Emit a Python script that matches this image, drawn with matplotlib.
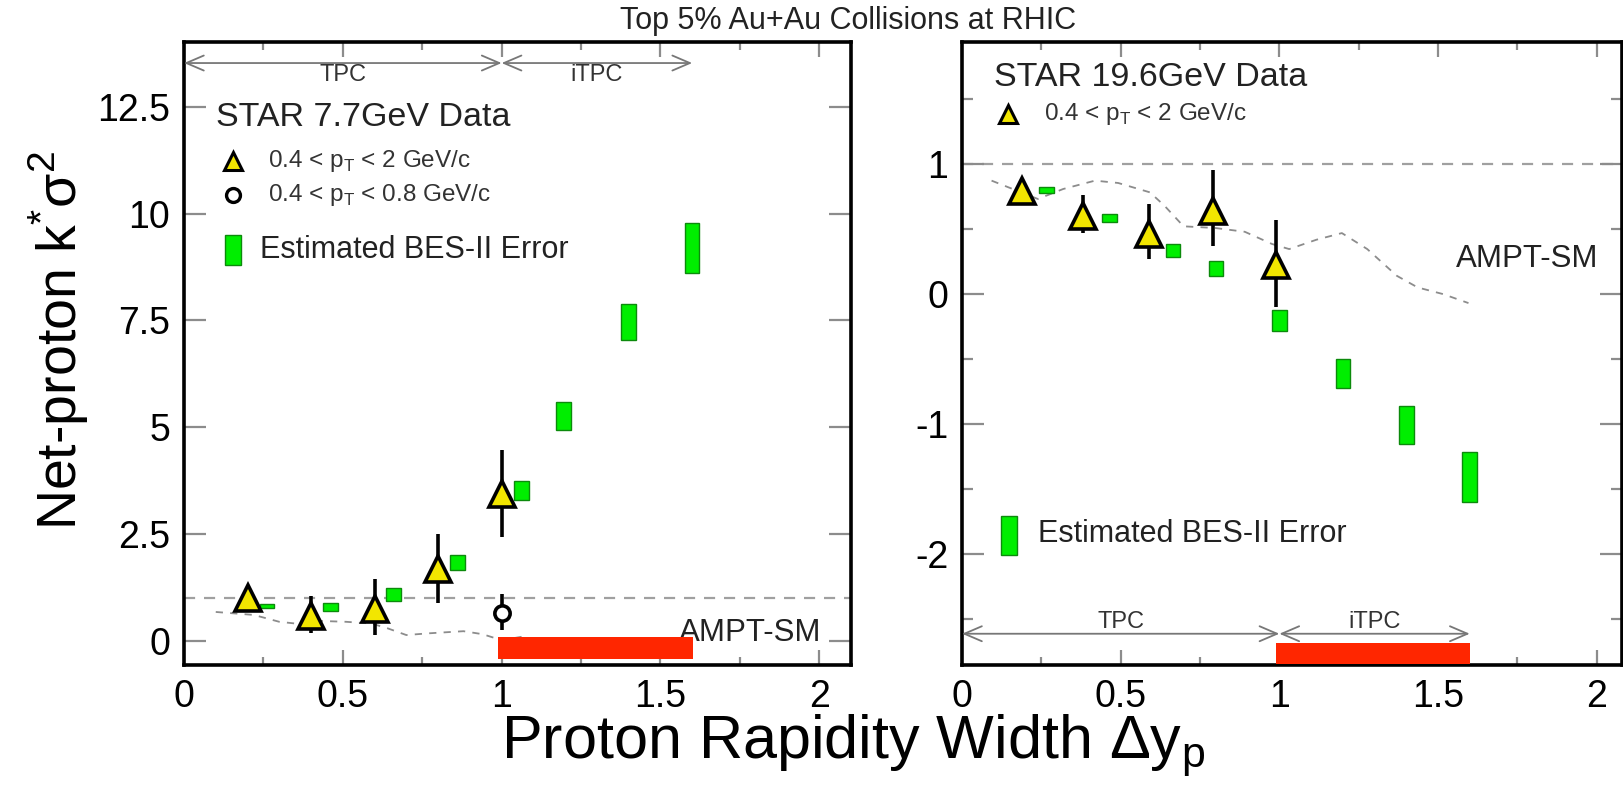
import numpy as np
import matplotlib.pyplot as plt

plt.rcParams['font.family'] = ['Liberation Sans', 'DejaVu Sans']

# ---- 7.7 GeV panel ----
x77 = [0.2, 0.4, 0.6, 0.8, 1.0]
y77 = [1.0, 0.59, 0.75, 1.69, 3.43]
y77_up = [0.2, 0.47, 0.71, 0.82, 1.03]
y77_dn = [0.2, 0.40, 0.61, 0.81, 1.00]

x77_lowpt = [1.0]
y77_lowpt = [0.66]
y77_lowpt_up = [0.45]
y77_lowpt_dn = [0.40]

x77_bes = [0.261, 0.461, 0.66, 0.861, 1.063, 1.195, 1.4, 1.6]
y77_bes = [0.83, 0.79, 1.085, 1.83, 3.515, 5.27, 7.47, 9.19]
e77_bes = [0.047, 0.09, 0.144, 0.175, 0.225, 0.33, 0.42, 0.58]

x77_ampt = [0.10, 0.22, 0.30, 0.35, 0.43, 0.51, 0.59, 0.64, 0.70, 0.77, 0.88, 0.94, 1.0, 1.08]
y77_ampt = [0.68, 0.61, 0.45, 0.41, 0.47, 0.45, 0.41, 0.30, 0.14, 0.18, 0.23, 0.16, 0.02, 0.12]

# ---- 19.6 GeV panel ----
x196 = [0.19, 0.38, 0.59, 0.79, 0.99]
y196 = [0.795, 0.60, 0.46, 0.64, 0.22]
y196_up = [0.04, 0.16, 0.23, 0.31, 0.35]
y196_dn = [0.04, 0.13, 0.19, 0.27, 0.32]

x196_bes = [0.266, 0.465, 0.665, 0.80, 1.0, 1.2, 1.4, 1.6]
y196_bes = [0.80, 0.585, 0.336, 0.196, -0.20, -0.61, -1.006, -1.405]
e196_bes = [0.02, 0.03, 0.05, 0.06, 0.08, 0.11, 0.147, 0.195]

x196_ampt = [0.093, 0.239, 0.319, 0.419, 0.492, 0.592, 0.638, 0.698, 0.798, 0.891,
             0.977, 1.031, 1.117, 1.197, 1.277, 1.370, 1.436, 1.516, 1.596]
y196_ampt = [0.872, 0.731, 0.808, 0.872, 0.854, 0.782, 0.679, 0.521, 0.508, 0.479,
             0.385, 0.346, 0.418, 0.469, 0.346, 0.141, 0.051, 0.0, -0.069]

# detector coverage (TPC / iTPC) and red iTPC band
tpc_range = (0.0, 1.0)
itpc_range = (1.0, 1.6)

YELLOW = '#f2e600'
GREEN = '#00ee00'
GREEN_EDGE = '#0c8a0c'
RED = '#ff2600'
GRAY = '#8c8c8c'


def style_axes(ax, ymajor, yminor=None):
    for s in ax.spines.values():
        s.set_linewidth(2.6)
        s.set_color('black')
    ax.set_xticks([0, 0.5, 1, 1.5, 2])
    ax.set_xticklabels(['0', '0.5', '1', '1.5', '2'])
    ax.set_xticks([0.25, 0.75, 1.25, 1.75], minor=True)
    ax.set_yticks(ymajor)
    if yminor is not None:
        ax.set_yticks(yminor, minor=True)
    ax.tick_params(which='both', direction='in', top=True, right=True,
                   color=GRAY, width=1.6, labelsize=27, pad=10)
    ax.tick_params(axis='x', which='major', length=11)
    ax.tick_params(axis='x', which='minor', length=6)
    ax.tick_params(axis='y', which='major', length=16)
    ax.tick_params(axis='y', which='minor', length=8)


def draw_data(ax, x, y, up, dn, xb, yb, eb, xa, ya):
    ax.axhline(1, color='#a0a0a0', ls=(0, (5, 4)), lw=1.6, zorder=1)
    ax.plot(xa, ya, color=GRAY, ls=(0, (4, 4)), lw=1.3, zorder=2)
    yb = np.array(yb)
    eb = np.array(eb)
    ax.bar(xb, 2 * eb, bottom=yb - eb, width=0.046, color=GREEN,
           edgecolor=GREEN_EDGE, linewidth=1.0, zorder=3)
    ax.errorbar(x, y, yerr=[dn, up], fmt='none', ecolor='black',
                elinewidth=2.6, capsize=0, zorder=4)
    ax.plot(x, y, ls='none', marker='^', ms=19, mfc=YELLOW, mec='black',
            mew=2.6, zorder=5)


def draw_arrows(ax, y, label_dy):
    for (a, b), name in zip([tpc_range, itpc_range], ['TPC', 'iTPC']):
        ax.annotate('', xy=(b, y), xytext=(a, y),
                    arrowprops=dict(arrowstyle='<->,head_length=0.7,head_width=0.3',
                                    color='#777777', lw=1.3, shrinkA=0, shrinkB=0,
                                    mutation_scale=18))
        ax.text((a + b) / 2, y + label_dy, name, ha='center', va='center',
                fontsize=17, color='#333333')


fig = plt.figure(figsize=(16.24, 7.89), dpi=100)
ax1 = fig.add_axes([0.1133, 0.1572, 0.4107, 0.790])
ax2 = fig.add_axes([0.5924, 0.1572, 0.4064, 0.790])

# left panel
draw_data(ax1, x77, y77, y77_up, y77_dn, x77_bes, y77_bes, e77_bes, x77_ampt, y77_ampt)
ax1.errorbar(x77_lowpt, y77_lowpt, yerr=[y77_lowpt_dn, y77_lowpt_up], fmt='none',
             ecolor='black', elinewidth=2.6, capsize=0, zorder=4)
ax1.plot(x77_lowpt, y77_lowpt, ls='none', marker='o', ms=11, mfc='white',
         mec='black', mew=2.6, zorder=5)
ax1.bar(itpc_range[0] - 0.01, 0.516, bottom=-0.43, width=0.613, align='edge',
        color=RED, zorder=6)
ax1.set_xlim(0, 2.1)
ax1.set_ylim(-0.56, 14.02)
style_axes(ax1, [0, 2.5, 5, 7.5, 10, 12.5])
ax1.set_yticklabels(['0', '2.5', '5', '7.5', '10', '12.5'])
draw_arrows(ax1, 13.52, -0.27)
ax1.text(0.1, 12.25, 'STAR 7.7GeV Data', fontsize=24.5, va='center', ha='left', color='#222222')
ax1.plot([0.154], [11.23], ls='none', marker='^', ms=13, mfc=YELLOW, mec='black', mew=2.2)
ax1.text(0.264, 11.23, r'0.4 < p$_{\mathregular{T}}$ < 2 GeV/c', fontsize=17.5,
         va='center', ha='left', color='#333333')
ax1.plot([0.154], [10.43], ls='none', marker='o', ms=10, mfc='white', mec='black', mew=2.4)
ax1.text(0.264, 10.43, r'0.4 < p$_{\mathregular{T}}$ < 0.8 GeV/c', fontsize=17.5,
         va='center', ha='left', color='#333333')
ax1.bar([0.154], [0.7], bottom=[9.14 - 0.35], width=0.05, color=GREEN,
        edgecolor=GREEN_EDGE, linewidth=1.0)
ax1.text(0.24, 9.14, 'Estimated BES-II Error', fontsize=22, va='center', ha='left',
         color='#222222')
ax1.text(1.557, 0.19, 'AMPT-SM', fontsize=22.5, va='center', ha='left', color='#222222')

# right panel
draw_data(ax2, x196, y196, y196_up, y196_dn, x196_bes, y196_bes, e196_bes,
          x196_ampt, y196_ampt)
ax2.bar(itpc_range[0] - 0.01, 0.16, bottom=-2.845, width=0.61, align='edge',
        color=RED, zorder=6)
ax2.set_xlim(0, 2.08)
ax2.set_ylim(-2.85, 1.94)
style_axes(ax2, [-2, -1, 0, 1], [-2.5, -1.5, -0.5, 0.5, 1.5])
ax2.set_yticklabels(['-2', '-1', '0', '1'])
draw_arrows(ax2, -2.61, 0.09)
ax2.text(0.1, 1.667, 'STAR 19.6GeV Data', fontsize=24.5, va='center', ha='left', color='#222222')
ax2.plot([0.146], [1.385], ls='none', marker='^', ms=13, mfc=YELLOW, mec='black', mew=2.2)
ax2.text(0.259, 1.385, r'0.4 < p$_{\mathregular{T}}$ < 2 GeV/c', fontsize=17.5,
         va='center', ha='left', color='#333333')
ax2.bar([0.148], [0.3], bottom=[-1.858 - 0.15], width=0.05, color=GREEN,
        edgecolor=GREEN_EDGE, linewidth=1.0)
ax2.text(0.24, -1.84, 'Estimated BES-II Error', fontsize=22, va='center', ha='left',
         color='#222222')
ax2.text(1.556, 0.27, 'AMPT-SM', fontsize=22.5, va='center', ha='left', color='#222222')

# shared titles
fig.text(0.522, 0.974, 'Top 5% Au+Au Collisions at RHIC', fontsize=22, ha='center',
         va='center', color='#222222')
fig.text(0.525, 0.055, r'Proton Rapidity Width $\mathregular{\Delta y_p}$', fontsize=44,
         ha='center', va='center')
fig.text(0.036, 0.569, r'Net-proton k$^{\mathregular{*}}\mathregular{\sigma^2}$', fontsize=40,
         ha='center', va='center', rotation=90)

fig.savefig('out.png', dpi=100)
